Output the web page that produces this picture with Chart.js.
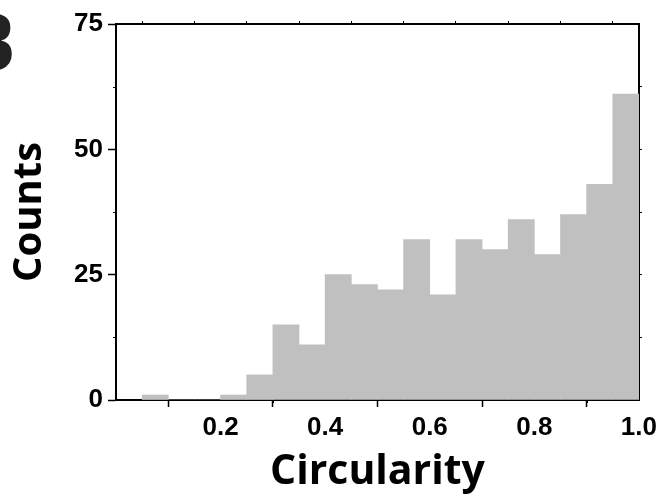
<!DOCTYPE html>
<html>
<head>
<meta charset="utf-8">
<script src="https://cdn.jsdelivr.net/npm/chart.js@4"></script>
<style>
  html, body { margin: 0; padding: 0; background: #fff; }
  #wrap { width: 662px; height: 497px; position: relative; }
</style>
</head>
<body>
<div id="wrap"><canvas id="histo"></canvas></div>
<script>
// circularity histogram, bin width 0.05
var binCenters = [0.075, 0.125, 0.175, 0.225, 0.275, 0.325, 0.375, 0.425, 0.475, 0.525,
                  0.575, 0.625, 0.675, 0.725, 0.775, 0.825, 0.875, 0.925, 0.975];
var counts = [1, 0, 0, 1, 5, 15, 11, 25, 23, 22, 32, 21, 32, 30, 36, 29, 37, 43, 61];
var xTicks = [0.2, 0.4, 0.6, 0.8, 1.0];
var yTicks = [0, 25, 50, 75];
var xMinorTicks = [0.1, 0.3, 0.5, 0.7, 0.9];
var yMinorTicks = [12.5, 37.5, 62.5];

var tickFont = { family: '"Liberation Sans", Arial, sans-serif', size: 26, weight: 'bold' };

// panel letter + minor tick marks on left/bottom
var extras = {
  id: 'extras',
  afterDraw: function(chart) {
    var c = chart.ctx, a = chart.chartArea;
    var xs = chart.scales.x, ys = chart.scales.y;
    c.save();
    c.strokeStyle = '#000';
    c.lineWidth = 1;
    c.beginPath();
    xMinorTicks.forEach(function(v) {
      var px = Math.round(xs.getPixelForValue(v)) + 0.5;
      c.moveTo(px, a.bottom); c.lineTo(px, a.bottom + 3);
    });
    yMinorTicks.forEach(function(v) {
      var py = Math.round(ys.getPixelForValue(v)) + 0.5;
      c.moveTo(a.left, py); c.lineTo(a.left - 3, py);
    });
    c.stroke();
    c.fillStyle = '#222';
    c.font = 'bold 80px "Open Sans", sans-serif';
    c.textAlign = 'right';
    c.textBaseline = 'alphabetic';
    c.fillText('B', 16, 71);
    c.restore();
  }
};

new Chart(document.getElementById('histo').getContext('2d'), {
  type: 'bar',
  data: {
    datasets: [{
      label: 'Counts',
      data: binCenters.map(function(x, i) { return { x: x, y: counts[i] }; }),
      backgroundColor: '#c0c0c0',
      borderWidth: 0,
      barPercentage: 1.0,
      categoryPercentage: 1.0
    }]
  },
  options: {
    responsive: true,
    maintainAspectRatio: false,
    animation: false,
    layout: { padding: { left: 0, right: 23, top: 24, bottom: 0 } },
    plugins: { legend: { display: false }, tooltip: { enabled: false } },
    scales: {
      x: {
        type: 'linear',
        position: 'bottom',
        min: 0, max: 1.0,
        offset: false,
        afterBuildTicks: function(s) { s.ticks = xTicks.map(function(v) { return { value: v }; }); },
        ticks: {
          color: '#000', font: tickFont, padding: 5, maxRotation: 0,
          callback: function(v) { return v.toFixed(1); }
        },
        grid: { display: true, drawOnChartArea: false, tickLength: 7, color: '#000', tickWidth: 1.5 },
        border: { display: true, color: '#000', width: 2 },
        title: {
          display: true, text: 'Circularity', color: '#000',
          font: { family: '"Open Sans", sans-serif', size: 41, weight: 'bold' },
          padding: { top: 0, bottom: 0 }
        },
        afterFit: function(s) { s.height = 97; }
      },
      y: {
        type: 'linear',
        position: 'left',
        min: 0, max: 75,
        afterBuildTicks: function(s) { s.ticks = yTicks.map(function(v) { return { value: v }; }); },
        ticks: { color: '#000', font: tickFont, padding: 5 },
        grid: { display: true, drawOnChartArea: false, tickLength: 8, color: '#000', tickWidth: 1.5 },
        border: { display: true, color: '#000', width: 2 },
        title: {
          display: true, text: 'Counts', color: '#000',
          font: { family: '"Open Sans", sans-serif', size: 40, weight: 'bold' },
          padding: { top: 6, bottom: 0 }
        },
        afterFit: function(s) { s.width = 116; }
      },
      x2: {
        type: 'linear',
        position: 'top',
        min: 0, max: 1.0,
        offset: false,
        afterBuildTicks: function(s) {
          s.ticks = [0.1, 0.2, 0.3, 0.4, 0.5, 0.6, 0.7, 0.8, 0.9].map(function(v) { return { value: v }; });
        },
        ticks: { display: false },
        grid: { display: true, drawOnChartArea: false, tickLength: 3, color: '#000' },
        border: { display: true, color: '#000', width: 2 },
        afterFit: function(s) { s.height = 0; }
      },
      y2: {
        type: 'linear',
        position: 'right',
        min: 0, max: 75,
        afterBuildTicks: function(s) {
          s.ticks = [12.5, 25, 37.5, 50, 62.5].map(function(v) { return { value: v }; });
        },
        ticks: { display: false },
        grid: { display: true, drawOnChartArea: false, tickLength: 3, color: '#000' },
        border: { display: true, color: '#000', width: 2 },
        afterFit: function(s) { s.width = 0; }
      }
    }
  },
  plugins: [extras]
});
</script>
</body>
</html>
